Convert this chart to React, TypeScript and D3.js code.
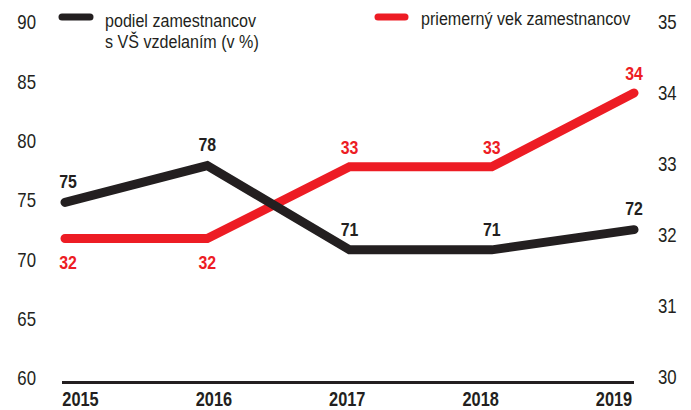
import React, { useEffect } from "react";
import * as d3 from "d3";

const years = ["2015", "2016", "2017", "2018", "2019"];
const podiel = [74.8, 77.9, 70.8, 70.8, 72.5];
const podielLabels = ["75", "78", "71", "71", "72"];
const vek = [31.95, 31.95, 32.96, 32.96, 34.0];
const vekLabels = ["32", "32", "33", "33", "34"];
const leftTicks = [60, 65, 70, 75, 80, 85, 90];
const rightTicks = [30, 31, 32, 33, 34, 35];

const BLACK = "#231f20";
const RED = "#ed1c24";
const FONT = "'Liberation Sans', Arial, sans-serif";

// condensed text: horizontal squeeze of a Helvetica-like face
function Txt(props: {
  x: number;
  y: number;
  size: number;
  k?: number;
  bold?: boolean;
  fill?: string;
  anchor?: "start" | "middle" | "end";
  dy?: string;
  children: React.ReactNode;
}) {
  const k = props.k ?? 0.86;
  return (
    <text
      transform={`translate(${props.x},${props.y}) scale(${k},1)`}
      dy={props.dy}
      textAnchor={props.anchor ?? "start"}
      fontSize={props.size}
      fontWeight={props.bold ? "bold" : "normal"}
      fill={props.fill ?? BLACK}
    >
      {props.children}
    </text>
  );
}

export default function App() {
  useEffect(() => {
    document.body.style.margin = "0";
  }, []);

  const width = 691,
    height = 410;

  const x = d3.scalePoint<string>().domain(years).range([65, 634]);
  const xLabel = d3.scalePoint<string>().domain(years).range([80.5, 614]);
  const yL = d3.scaleLinear().domain([60, 90]).range([378, 22]);
  const yR = d3.scaleLinear().domain([30, 35]).range([377, 22]);

  const lineL = d3
    .line<number>()
    .x((d, i) => x(years[i]) as number)
    .y((d) => yL(d));
  const lineR = d3
    .line<number>()
    .x((d, i) => x(years[i]) as number)
    .y((d) => yR(d));

  // offsets of the value labels from their points
  const redOffset = [24, 24, -20, -20, -20];

  return (
    <svg width={width} height={height} style={{ display: "block", fontFamily: FONT }}>
      {/* left axis */}
      {leftTicks.map((t) => (
        <Txt key={"l" + t} x={36} y={yL(t)} dy="0.36em" anchor="end" size={20} k={0.84}>
          {t}
        </Txt>
      ))}
      {/* right axis */}
      {rightTicks.map((t) => (
        <Txt key={"r" + t} x={658} y={yR(t)} dy="0.36em" size={20} k={0.84}>
          {t}
        </Txt>
      ))}

      {/* baseline */}
      <line x1={62} x2={634} y1={382.5} y2={382.5} stroke={BLACK} strokeWidth={3} />

      {years.map((yr) => (
        <Txt key={yr} x={xLabel(yr) as number} y={406} anchor="middle" size={19.5} bold k={0.84}>
          {yr}
        </Txt>
      ))}

      {/* lines */}
      <path d={lineR(vek) || ""} fill="none" stroke={RED} strokeWidth={9} strokeLinecap="round" strokeLinejoin="miter" />
      <path d={lineL(podiel) || ""} fill="none" stroke={BLACK} strokeWidth={9} strokeLinecap="round" strokeLinejoin="miter" />

      {/* value labels */}
      {vek.map((v, i) => (
        <Txt
          key={"vl" + i}
          x={(x(years[i]) as number) + (i === 0 ? 3 : 0)}
          y={yR(v) + redOffset[i]}
          dy="0.36em"
          anchor="middle"
          size={18.5}
          bold
          fill={RED}
        >
          {vekLabels[i]}
        </Txt>
      ))}
      {podiel.map((v, i) => (
        <Txt
          key={"pl" + i}
          x={(x(years[i]) as number) + (i === 0 ? 3 : 0)}
          y={yL(v) - 21}
          dy="0.36em"
          anchor="middle"
          size={18.5}
          bold
        >
          {podielLabels[i]}
        </Txt>
      ))}

      {/* legend */}
      <line x1={62} x2={90} y1={17} y2={17} stroke={BLACK} strokeWidth={7} strokeLinecap="round" />
      <Txt x={105} y={26.5} size={18.5} k={0.87}>
        podiel zamestnancov
      </Txt>
      <Txt x={105} y={48} size={18.5} k={0.87}>
        s VŠ vzdelaním (v %)
      </Txt>
      <line x1={378} x2={405} y1={17} y2={17} stroke={RED} strokeWidth={7} strokeLinecap="round" />
      <Txt x={421} y={25} size={18.5} k={0.87}>
        priemerný vek zamestnancov
      </Txt>
    </svg>
  );
}
